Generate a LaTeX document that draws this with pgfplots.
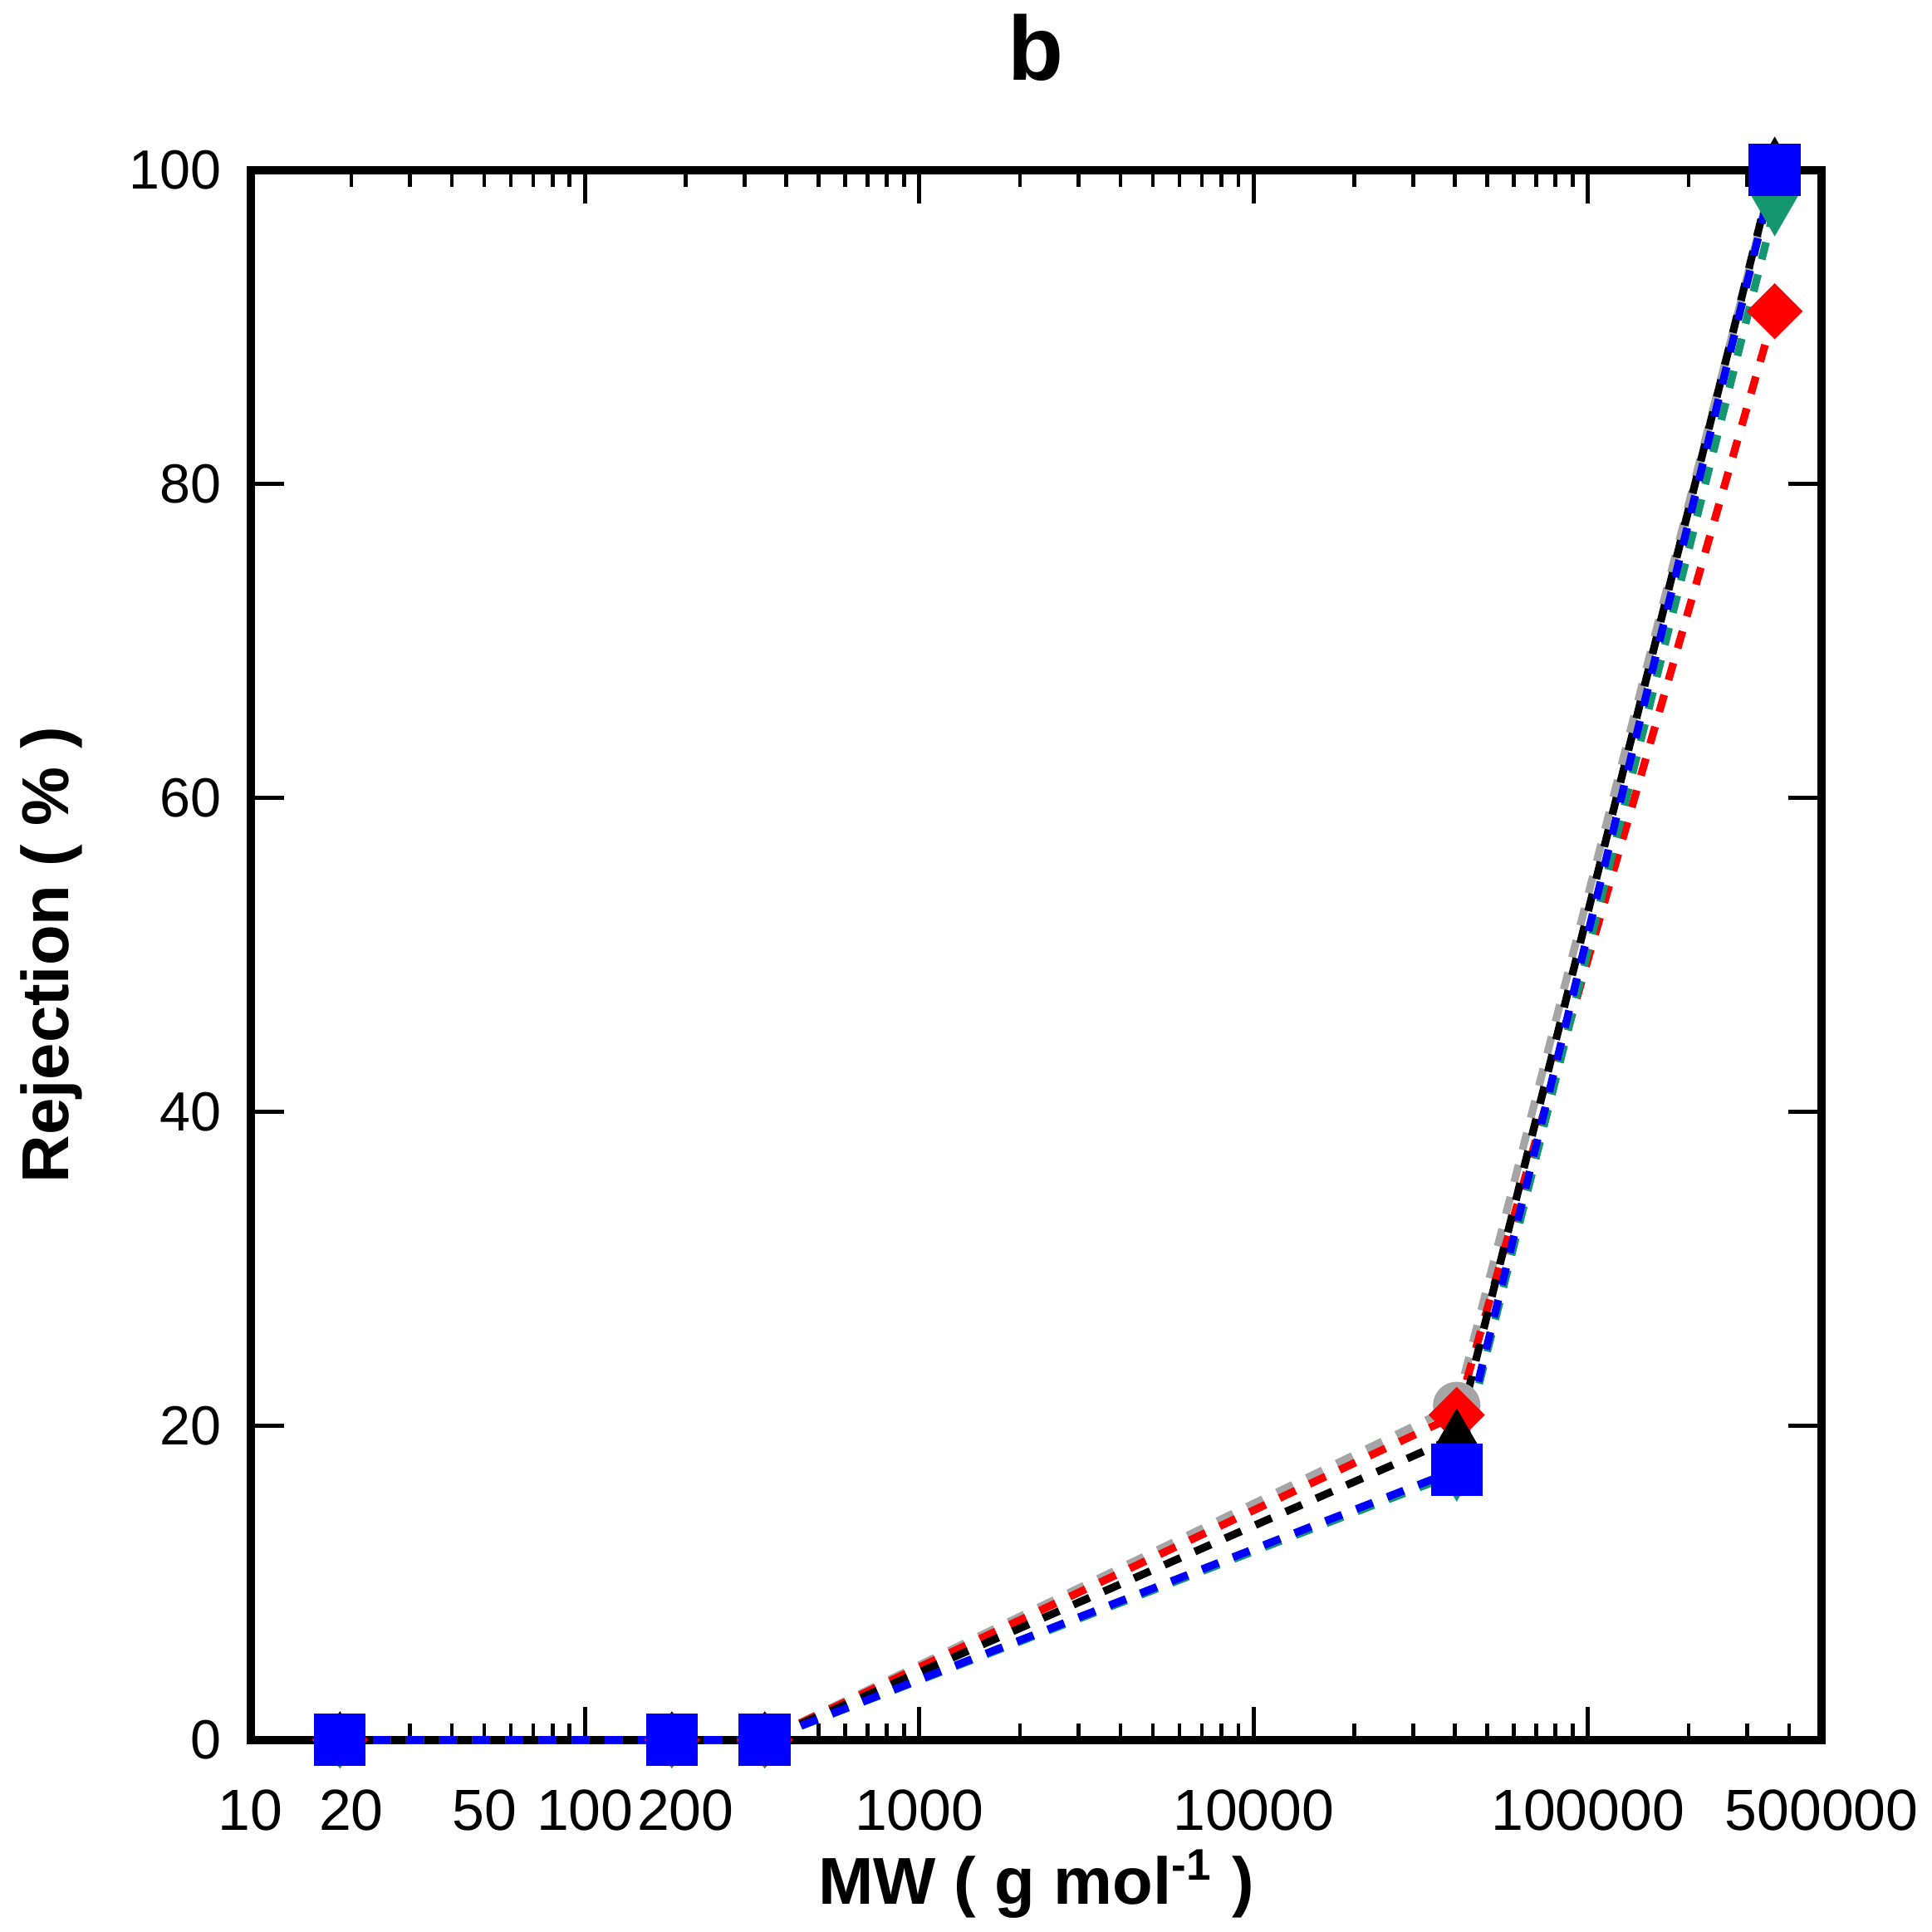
\documentclass[border=0pt]{standalone}
\usepackage{fontspec}
\setmainfont{Liberation Sans}
\usepackage{pgfplots}
\pgfplotsset{compat=1.18}
\definecolor{sgray}{RGB}{165,165,165}
\definecolor{sred}{RGB}{255,0,0}
\definecolor{sgreen}{RGB}{20,150,110}
\definecolor{sblue}{RGB}{0,0,255}
\begin{document}
\begin{tikzpicture}
\begin{axis}[
  scale only axis, width=284.6pt, height=284.4pt,
  xmode=log, xmin=10, xmax=500000, ymin=0, ymax=100,
  clip=false,
  axis line style={line width=1.5pt},
  every tick/.style={black, line width=0.7pt},
  tick align=inside, tick pos=both,
  xticklabel pos=bottom, yticklabel pos=left,
  major tick length=6pt, minor tick length=3pt,
  xtick={10,100,1000,10000,100000},
  xticklabels={10,100,1000,10000,100000},
  minor xtick={20,30,40,50,60,70,80,90,200,300,400,500,600,700,800,900,2000,3000,4000,5000,6000,7000,8000,9000,20000,30000,40000,50000,60000,70000,80000,90000,200000,300000,400000},
  extra x ticks={20,50,200,500000},
  extra x tick labels={20,50,200,500000},
  extra x tick style={major tick length=0pt},
  ytick={0,20,40,60,80,100},
  /pgf/number format/assume math mode=true,
  tick label style={font=\fontsize{10}{12}\selectfont},
  xticklabel style={yshift=-5.5pt, font=\fontsize{10.5}{12}\selectfont},
  yticklabel style={xshift=-1.8pt},
  title={b},
  title style={font=\bfseries\fontsize{16.5}{18}\selectfont, at={(axis description cs:0.5,1)}, anchor=base, yshift=10.2pt},
  xlabel={MW ( g mol\textsuperscript{-1} )},
  ylabel={Rejection ( \% )},
  label style={font=\bfseries\fontsize{12}{14}\selectfont},
  xlabel style={at={(axis description cs:0.5,-0.092)}, anchor=center},
  ylabel style={at={(axis description cs:-0.127,0.5)}, anchor=center, rotate=0},
  every axis plot/.append style={line width=1.4pt, dash pattern=on 3.2pt off 2.8pt},
]
\addplot[sgray, mark=*, mark size=3.6pt, mark options={solid}]
  coordinates {(18.5,0)(182,0)(345,0)(40500,21.3)(362000,100)};
\addplot[sred, mark=square*, mark size=2.9pt, mark options={solid, rotate=45}]
  coordinates {(18.5,0)(182,0)(345,0)(40500,20.7)(362000,91)};
\addplot[black, mark=triangle*, mark size=3.8pt, mark options={solid}]
  coordinates {(18.5,0)(182,0)(345,0)(40500,19.3)(362000,100.3)};
\addplot[sgreen, mark=triangle*, mark size=3.8pt, mark options={solid, rotate=180}]
  coordinates {(18.5,0)(182,0)(345,0)(40500,17)(362000,97.6)};
\addplot[sblue, mark=square*, mark size=4pt, mark options={solid}]
  coordinates {(18.5,0)(182,0)(345,0)(40500,17.2)(362000,100)};
\end{axis}
\pgfresetboundingbox
\path ([xshift=-45.4pt,yshift=-34.8pt]current axis.south west) rectangle ([xshift=20pt,yshift=30.8pt]current axis.north east);
\end{tikzpicture}
\end{document}
